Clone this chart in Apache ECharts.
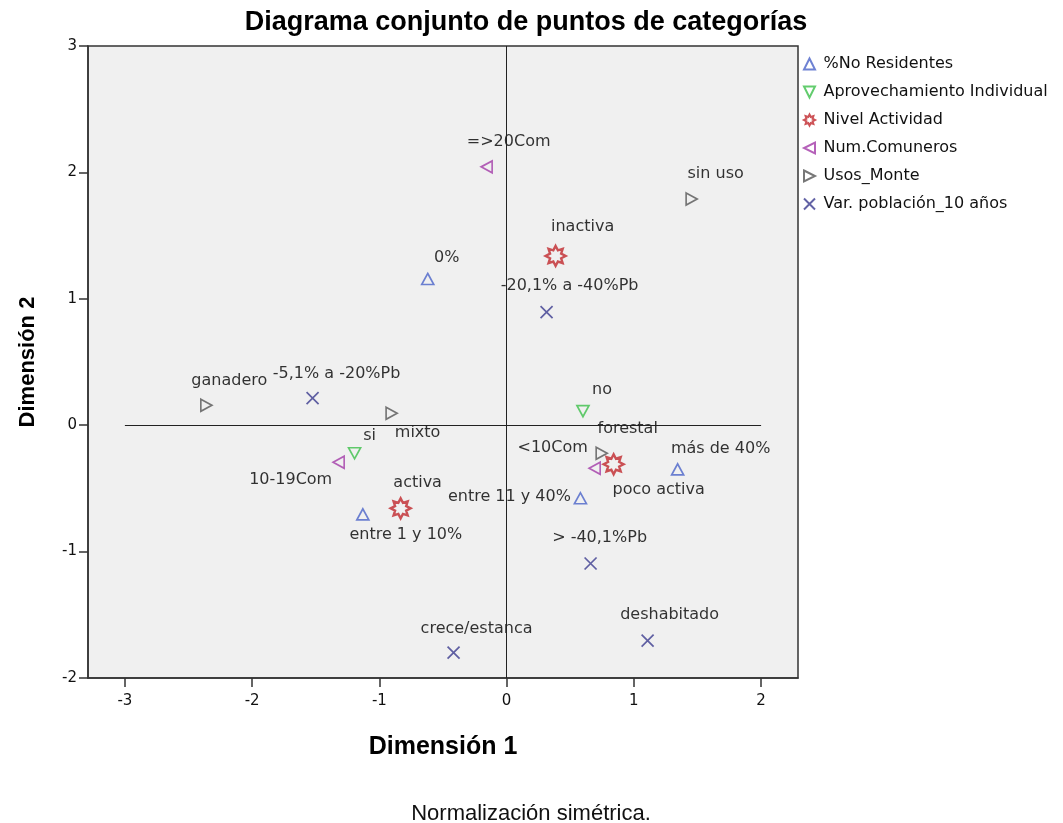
<!DOCTYPE html>
<html>
<head>
<meta charset="utf-8">
<script src="https://cdn.jsdelivr.net/npm/echarts@6/dist/echarts.min.js"></script>
<style>
  html, body { margin: 0; padding: 0; background: #ffffff; }
  #chart { width: 1063px; height: 823px; }
</style>
</head>
<body>
<div id="chart"></div>
<script>
// puntos de categorías: [dim1, dim2, etiqueta]
const noResidentes = [
  [-0.62, 1.157, '0%'],
  [-1.13, -0.705, 'entre 1 y 10%'],
  [0.58, -0.578, 'entre 11 y 40%'],
  [1.344, -0.349, 'más de 40%']
]
const aprovechamiento = [
  [0.60, 0.111, 'no'],
  [-1.195, -0.222, 'si']
]
const nivelActividad = [
  [0.385, 1.339, 'inactiva'],
  [-0.833, -0.658, 'activa'],
  [0.841, -0.309, 'poco activa']
]
const numComuneros = [
  [-0.157, 2.044, '=>20Com'],
  [-1.32, -0.293, '10-19Com'],
  [0.692, -0.341, '<10Com']
]
const usosMonte = [
  [1.454, 1.79, 'sin uso'],
  [-2.36, 0.158, 'ganadero'],
  [-0.904, 0.095, 'mixto'],
  [0.747, -0.222, 'forestal']
]
const varPoblacion = [
  [0.314, 0.895, '-20,1% a -40%Pb'],
  [-1.525, 0.214, '-5,1% a -20%Pb'],
  [0.66, -1.094, '> -40,1%Pb'],
  [-0.417, -1.80, 'crece/estanca'],
  [1.108, -1.704, 'deshabitado']
]
const xTicks = [-3, -2, -1, 0, 1, 2]

// desplazamiento de cada etiqueta respecto a su punto (px)
const labelOffsets = {
  '0%': [19, -21], 'entre 1 y 10%': [43, 21], 'entre 11 y 40%': [-71, -1], 'más de 40%': [43, -20],
  'no': [19, -21], 'si': [15, -17],
  'inactiva': [27, -29], 'activa': [17, -26], 'poco activa': [45, 26],
  '=>20Com': [22, -25], '10-19Com': [-48, 18], '<10Com': [-42, -20],
  'sin uso': [24, -25], 'ganadero': [23, -24], 'mixto': [26, 20], 'forestal': [26, -24],
  '-20,1% a -40%Pb': [23, -26], '-5,1% a -20%Pb': [24, -24], '> -40,1%Pb': [9, -26],
  'crece/estanca': [23, -24], 'deshabitado': [22, -26]
}

const FONT = 'Liberation Sans, Arial, sans-serif'
const WIDE = 'DejaVu Sans, sans-serif'

const sym = {
  up: 'path://M5,0L10,10L0,10Z',
  down: 'path://M0,0L10,0L5,10Z',
  left: 'path://M10,0L10,10L0,5Z',
  right: 'path://M0,0L10,5L0,10Z',
  star: 'path://M10,0L12.3,4.46L17.07,2.93L15.54,7.7L20,10L15.54,12.3L17.07,17.07L12.3,15.54L10,20L7.7,15.54L2.93,17.07L4.46,12.3L0,10L4.46,7.7L2.93,2.93L7.7,4.46Z',
  cross: 'path://M0,0L10,10M10,0L0,10'
}

const toData = (arr) => arr.map(d => ({
  value: [d[0], d[1]],
  name: d[2],
  label: { offset: labelOffsets[d[2]] || [0, -20] }
}))

const makeSeries = (name, arr, symbol, color, size, width) => ({
  name: name,
  type: 'scatter',
  symbol: symbol,
  symbolSize: size,
  itemStyle: { color: 'transparent', borderColor: color, borderWidth: width },
  label: {
    show: true,
    position: 'inside',
    formatter: '{b}',
    color: '#000',
    fontFamily: WIDE,
    fontSize: 16
  },
  emphasis: { disabled: true },
  data: toData(arr)
})

const series = [
  makeSeries('%No Residentes', noResidentes, sym.up, '#4a63c8', [12, 11], 1.7),
  makeSeries('Aprovechamiento Individual', aprovechamiento, sym.down, '#3cbf4a', [12, 11], 1.7),
  makeSeries('Nivel Actividad', nivelActividad, sym.star, '#c0282d', 20, 2.4),
  makeSeries('Num.Comuneros', numComuneros, sym.left, '#a33aa8', [11, 12], 1.7),
  makeSeries('Usos_Monte', usosMonte, sym.right, '#555555', [11, 12], 1.7),
  makeSeries('Var. población_10 años', varPoblacion, sym.cross, '#3b3b8f', 12, 1.7)
]

// líneas de referencia
series[0].markLine = {
  silent: true,
  symbol: 'none',
  animation: false,
  label: { show: false },
  lineStyle: { color: '#222', width: 1, type: 'solid' },
  data: [
    [{ coord: [-3, 0] }, { coord: [2, 0] }],
    { xAxis: 0 }
  ]
}

const chart = echarts.init(document.getElementById('chart'))

chart.setOption({
  animation: false,
  backgroundColor: '#ffffff',
  title: [
    {
      text: 'Diagrama conjunto de puntos de categorías',
      left: 521,
      top: 4,
      textAlign: 'center',
      textStyle: { fontFamily: FONT, fontSize: 27, fontWeight: 'bold', color: '#000' }
    },
    {
      text: 'Normalización simétrica.',
      left: 526,
      top: 798,
      textAlign: 'center',
      textStyle: { fontFamily: FONT, fontSize: 22, fontWeight: 'normal', color: '#111' }
    }
  ],
  legend: {
    orient: 'vertical',
    left: 798,
    top: 51,
    itemWidth: 12,
    itemHeight: 11,
    itemGap: 12,
    textStyle: { fontFamily: WIDE, fontSize: 16, lineHeight: 16, color: '#111', padding: [0, 0, 0, 3] },
    data: series.map(s => s.name)
  },
  grid: {
    left: 88,
    top: 46,
    width: 710,
    height: 632,
    show: true,
    backgroundColor: '#f0f0f0',
    borderColor: '#333',
    borderWidth: 1.5
  },
  xAxis: {
    type: 'value',
    min: -3.29,
    max: 2.29,
    name: 'Dimensión 1',
    nameLocation: 'middle',
    nameGap: 57,
    nameTextStyle: { fontFamily: FONT, fontSize: 25, fontWeight: 'bold', color: '#000' },
    axisLine: { show: true, onZero: false, lineStyle: { color: '#333', width: 1.5 } },
    axisTick: { show: true, length: 9, customValues: xTicks, lineStyle: { color: '#333', width: 1.5 } },
    axisLabel: { customValues: xTicks, margin: 16, fontFamily: WIDE, fontSize: 15, color: '#111' },
    splitLine: { show: false }
  },
  yAxis: {
    type: 'value',
    min: -2,
    max: 3,
    interval: 1,
    name: 'Dimensión 2',
    nameLocation: 'middle',
    nameGap: 49,
    nameTextStyle: { fontFamily: FONT, fontSize: 22, fontWeight: 'bold', color: '#000' },
    axisLine: { show: true, onZero: false, lineStyle: { color: '#333', width: 1.5 } },
    axisTick: { show: true, length: 9, lineStyle: { color: '#333', width: 1.5 } },
    axisLabel: { margin: 11, fontFamily: WIDE, fontSize: 15, color: '#111' },
    splitLine: { show: false }
  },
  series: series
})
</script>
</body>
</html>
